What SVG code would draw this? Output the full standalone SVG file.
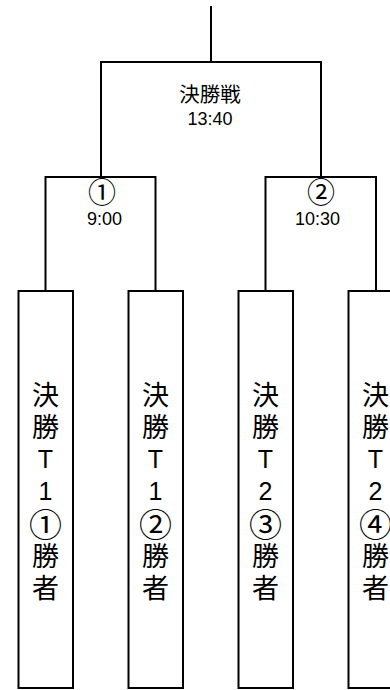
<svg xmlns="http://www.w3.org/2000/svg" width="390" height="690" viewBox="0 0 390 690">
<style>
.ln{fill:none;stroke:#000;stroke-width:2}
.box{fill:#fff;stroke:#000;stroke-width:2}
.cjk{font-family:"Noto Sans CJK JP","Liberation Sans",sans-serif;fill:#000;text-anchor:middle}
.lat{font-family:"Liberation Sans","Noto Sans CJK JP",sans-serif;fill:#000;text-anchor:middle}
.v{font-family:"Noto Sans CJK JP","Liberation Sans",sans-serif;font-size:27px;fill:#000;text-anchor:middle}
.vl{font-family:"Liberation Sans","Noto Sans CJK JP",sans-serif;font-size:25px}
.vc{font-size:33px}
</style>
<rect width="390" height="690" fill="#fff"/>
<g id="connectors">
<path class="ln" d="M211,6V62M101,178V62H321V178"/>
<path class="ln" d="M45.5,291V177H155.5V291"/>
<path class="ln" d="M265.5,291V177H376V291"/>
</g>
<g id="final">
<text class="cjk" x="210" y="101.5" font-size="20.5">決勝戦</text>
<text class="lat" x="210" y="125" font-size="18">13:40</text>
</g>
<g id="semi1">
<text class="cjk" x="102" y="202.5" font-size="28">①</text>
<text class="lat" x="104.5" y="225" font-size="18">9:00</text>
</g>
<g id="semi2">
<text class="cjk" x="321" y="202.5" font-size="28">②</text>
<text class="lat" x="317.5" y="225" font-size="18">10:30</text>
</g>
<g id="team1">
<rect class="box" x="18.5" y="291" width="54.5" height="397"/>
<text class="v"><tspan x="45.5" y="404.5">決</tspan><tspan x="45.5" y="436.8">勝</tspan><tspan class="vl" x="45.5" y="467.6">T</tspan><tspan class="vl" x="45.5" y="499.9">1</tspan><tspan class="vc" x="45.5" y="537">①</tspan><tspan x="45.5" y="566">勝</tspan><tspan x="45.5" y="598.3">者</tspan></text>
</g>
<g id="team2">
<rect class="box" x="128.5" y="291" width="54.5" height="397"/>
<text class="v"><tspan x="155.5" y="404.5">決</tspan><tspan x="155.5" y="436.8">勝</tspan><tspan class="vl" x="155.5" y="467.6">T</tspan><tspan class="vl" x="155.5" y="499.9">1</tspan><tspan class="vc" x="155.5" y="537">②</tspan><tspan x="155.5" y="566">勝</tspan><tspan x="155.5" y="598.3">者</tspan></text>
</g>
<g id="team3">
<rect class="box" x="238.5" y="291" width="54.5" height="397"/>
<text class="v"><tspan x="265.5" y="404.5">決</tspan><tspan x="265.5" y="436.8">勝</tspan><tspan class="vl" x="265.5" y="467.6">T</tspan><tspan class="vl" x="265.5" y="499.9">2</tspan><tspan class="vc" x="265.5" y="537">③</tspan><tspan x="265.5" y="566">勝</tspan><tspan x="265.5" y="598.3">者</tspan></text>
</g>
<g id="team4">
<rect class="box" x="348.5" y="291" width="54.5" height="397"/>
<text class="v"><tspan x="375.5" y="404.5">決</tspan><tspan x="375.5" y="436.8">勝</tspan><tspan class="vl" x="375.5" y="467.6">T</tspan><tspan class="vl" x="375.5" y="499.9">2</tspan><tspan class="vc" x="375.5" y="537">④</tspan><tspan x="375.5" y="566">勝</tspan><tspan x="375.5" y="598.3">者</tspan></text>
</g>
</svg>
